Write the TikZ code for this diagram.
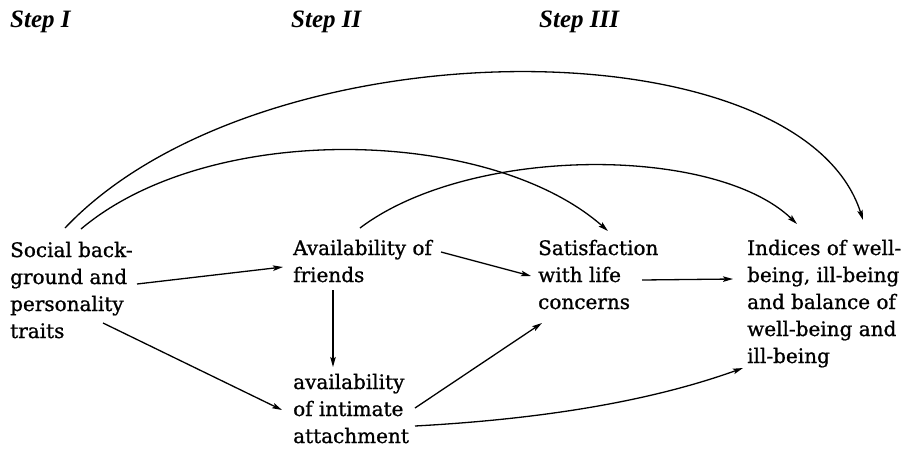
\documentclass[tikz,border=0pt]{standalone}
\usepackage{fontspec}
\setmainfont{DejaVu Serif}[FakeBold=1.0]
\newfontfamily\stepfont{Liberation Serif}
\usetikzlibrary{arrows.meta}
\tikzset{
  lbl/.style={anchor=base west, align=left, inner sep=0pt,
    font=\fontsize{20}{27}\selectfont},
  steplbl/.style={anchor=base west, inner sep=0pt,
    font=\stepfont\bfseries\itshape\fontsize{25}{27}\selectfont},
  conn/.style={line width=1.3pt, -{Stealth[length=10pt,width=5.5pt,inset=2pt]}}
}
\begin{document}
\begin{tikzpicture}[x=1pt,y=-1pt]
\useasboundingbox (0,0) rectangle (903,448);
\node[steplbl] (s1) at (10,27) {Step I};
\node[steplbl] (s2) at (291,27) {Step II};
\node[steplbl] (s3) at (539,27) {Step III};

% base anchors sit on the baseline of the last line
\node[lbl] (soc) at (10,338) {Social back-\\ground and\\personality\\traits};
\node[lbl] (fr) at (293,282) {Availability of\\friends};
\node[lbl] (att) at (293,443) {availability\\of intimate\\attachment};
\node[lbl] (sat) at (538,309) {Satisfaction\\with life\\concerns};
\node[lbl] (ind) at (747,363) {Indices of well-\\being, ill-being\\and balance of\\well-being and\\ill-being};

\draw[conn] ([shift={(127,-54)}]soc.base west) -- ([shift={(-10,-15)}]fr.base west);
\draw[conn] ([shift={(93,-15)}]soc.base west) -- ([shift={(-11,-33)}]att.base west);
\draw[conn] ([shift={(40,8)}]fr.base west) -- ([shift={(40,-76)}]att.base west);
\draw[conn] ([shift={(148,-30)}]fr.base west) -- ([shift={(-7,-33)}]sat.base west);
\draw[conn] ([shift={(122,-35)}]att.base west) -- ([shift={(4,14)}]sat.base west);
\draw[conn] ([shift={(122,-17)}]att.base west) .. controls (525,420) and (640,405) .. ([shift={(-4,5)}]ind.base west);
\draw[conn] ([shift={(104,-29)}]sat.base west) -- ([shift={(-14,-84)}]ind.base west);

\draw[conn] ([shift={(55,-110)}]soc.base west) .. controls (260,22) and (800,22) .. ([shift={(116,-143)}]ind.base west);
\draw[conn] ([shift={(71,-109)}]soc.base west) .. controls (210,120) and (490,127) .. ([shift={(70,-78)}]sat.base west);
\draw[conn] ([shift={(67,-54)}]fr.base west) .. controls (470,145) and (715,145) .. ([shift={(50,-139)}]ind.base west);
\end{tikzpicture}
\end{document}
